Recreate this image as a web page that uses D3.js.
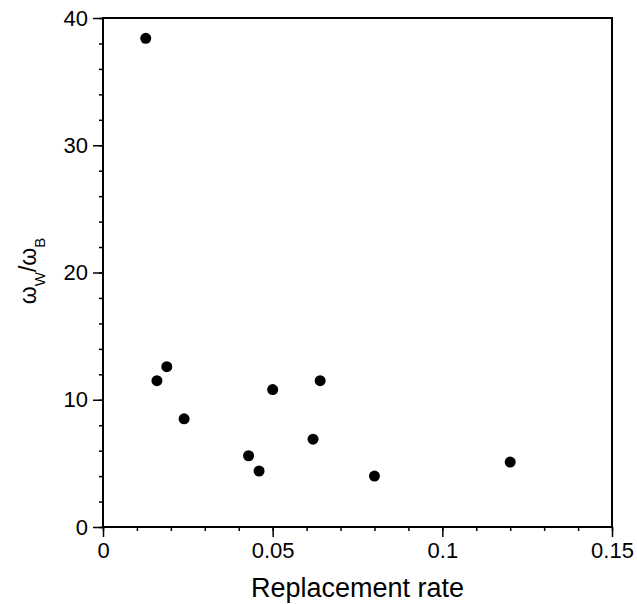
<!DOCTYPE html>
<html>
<head>
<meta charset="utf-8">
<script src="https://cdn.jsdelivr.net/npm/d3@7"></script>
<style>
  body { margin: 0; background: #fff; }
  text { font-family: "Liberation Sans", Arial, sans-serif; fill: #000; }
</style>
</head>
<body>
<div id="chart"></div>
<script>
// replacement rate vs omega ratio
var rate  = [0.0126, 0.0159, 0.0188, 0.0239, 0.0429, 0.046, 0.050, 0.0619, 0.064, 0.080, 0.120];
var ratio = [38.4,   11.5,   12.6,   8.5,    5.6,    4.4,   10.8,  6.9,    11.5,  4.0,   5.1];
var xTicks = [0, 0.05, 0.1, 0.15];
var yTicks = [0, 10, 20, 30, 40];

var margin = {top: 18, right: 25, bottom: 77, left: 103};
var fullWidth = 637, fullHeight = 604;
var width = fullWidth - margin.left - margin.right;
var height = fullHeight - margin.top - margin.bottom;

var svg = d3.select("#chart").append("svg")
    .attr("width", fullWidth)
    .attr("height", fullHeight);

var g = svg.append("g")
    .attr("transform", "translate(" + margin.left + "," + margin.top + ")");

var x = d3.scaleLinear().domain([0, 0.15]).range([0, width]);
var y = d3.scaleLinear().domain([0, 40]).range([height, 0]);

// minor ticks
var xMinor = d3.range(0, 0.1501, 0.01);
var yMinor = d3.range(0, 40.01, 2);

g.append("g")
    .attr("transform", "translate(0," + height + ")")
    .call(d3.axisBottom(x).tickValues(xMinor).tickSize(4).tickFormat(""))
    .call(function(a) { a.select(".domain").remove(); });

g.append("g")
    .call(d3.axisLeft(y).tickValues(yMinor).tickSize(4).tickFormat(""))
    .call(function(a) { a.select(".domain").remove(); });

var xAxis = g.append("g")
    .attr("transform", "translate(0," + height + ")")
    .call(d3.axisBottom(x).tickValues(xTicks).tickSize(10).tickPadding(5)
      .tickFormat(function(d) { return d === 0 ? "0" : String(d); }));
xAxis.selectAll("text").style("font-size", "22px");

var yAxis = g.append("g")
    .call(d3.axisLeft(y).tickValues(yTicks).tickSize(10).tickPadding(5));
yAxis.selectAll("text").style("font-size", "22px");

g.selectAll(".domain").remove();
g.selectAll(".tick line").attr("stroke", "#000").attr("stroke-width", 1.5);

// frame
g.append("rect")
    .attr("width", width)
    .attr("height", height)
    .attr("fill", "none")
    .attr("stroke", "#000")
    .attr("stroke-width", 2);

// points
g.selectAll("circle")
    .data(rate)
    .enter()
    .append("circle")
    .attr("cx", function(d) { return x(d); })
    .attr("cy", function(d, i) { return y(ratio[i]); })
    .attr("r", 5.5)
    .attr("fill", "#000");

// x title
svg.append("text")
    .attr("x", margin.left + width / 2)
    .attr("y", 597)
    .attr("text-anchor", "middle")
    .style("font-size", "27px")
    .text("Replacement rate");

// y title
var yt = svg.append("text")
    .attr("transform", "translate(36,271) rotate(-90)")
    .attr("text-anchor", "middle")
    .style("font-size", "23px");
yt.append("tspan").text("ω");
yt.append("tspan").attr("dy", 9).style("font-size", "15px").text("W");
yt.append("tspan").attr("dy", -9).text("/ω");
yt.append("tspan").attr("dy", 9).style("font-size", "15px").text("B");
</script>
</body>
</html>
